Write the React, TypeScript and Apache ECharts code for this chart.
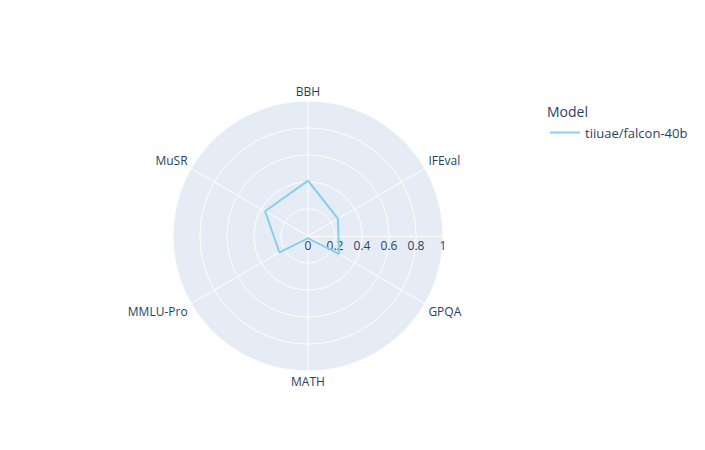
import React, { useEffect, useRef } from "react";
import * as echarts from "echarts";

const categories = ["BBH", "IFEval", "GPQA", "MATH", "MMLU-Pro", "MuSR"];
const seriesName = "tiiuae/falcon-40b";
const values = [0.41, 0.256, 0.267, 0.015, 0.244, 0.367];
const radialTicks = [0, 0.2, 0.4, 0.6, 0.8, 1];

const FONT = '"Open Sans", Verdana, Arial, sans-serif';
const TEXT = "#2a3f5f";

export default function App() {
  const ref = useRef<HTMLDivElement>(null);
  useEffect(() => {
    if (!ref.current) return;
    const chart = echarts.init(ref.current, undefined, { renderer: "svg" });
    const step = 360 / categories.length;
    const data = values.map((v, i) => [v, i * step]);
    data.push([values[0], 360]);
    chart.setOption({
      animation: false,
      textStyle: { fontFamily: FONT },
      title: {
        text: "Model",
        left: 542,
        top: 99,
        textStyle: { fontFamily: FONT, fontSize: 14, fontWeight: "normal", color: TEXT },
      },
      legend: {
        left: 545,
        top: 121,
        orient: "vertical",
        itemWidth: 30,
        itemHeight: 12,
        itemGap: 4,
        textStyle: { fontFamily: FONT, fontSize: 13, color: TEXT },
        data: [{ name: seriesName, icon: "path://M0,0 L30,0 L30,2 L0,2 Z" }],
      },
      polar: [
        { center: [308, 236], radius: 135 },
        { center: [308, 236], radius: 135 },
      ],
      angleAxis: [
        {
          polarIndex: 0,
          type: "value",
          min: 0,
          max: 360,
          interval: step,
          startAngle: 90,
          clockwise: true,
          axisLine: { show: false },
          axisTick: { show: false },
          axisLabel: {
            margin: 4,
            fontSize: 12,
            fontFamily: FONT,
            color: TEXT,
            formatter: (v: number) => {
              const idx = Math.round(v / step);
              return idx < categories.length ? categories[idx] : "";
            },
          },
          splitLine: { show: true, lineStyle: { color: "#ffffff", width: 1 } },
          z: 1,
        },
        {
          polarIndex: 1,
          type: "value",
          min: 0,
          max: 360,
          startAngle: 0,
          show: false,
        },
      ],
      radiusAxis: [
        {
          polarIndex: 0,
          type: "value",
          min: 0,
          max: 1,
          interval: 0.2,
          axisLine: { show: false },
          axisTick: { show: false },
          axisLabel: { show: false },
          splitLine: { show: false },
          splitArea: { show: true, areaStyle: { color: ["#E5ECF6"] } },
          z: 0,
        },
        {
          polarIndex: 1,
          type: "value",
          min: 0,
          max: 1,
          interval: 0.2,
          axisLine: { show: true, lineStyle: { color: "#ffffff", width: 1 } },
          axisTick: { show: false },
          splitLine: { show: true, lineStyle: { color: "#ffffff", width: 1 } },
          axisLabel: {
            show: true,
            margin: -3,
            verticalAlign: "top",
            fontSize: 12,
            fontFamily: FONT,
            color: TEXT,
            formatter: (v: number) => {
              const t = radialTicks.find((x) => Math.abs(x - v) < 1e-6);
              return t === undefined ? "" : String(t);
            },
          },
          z: 2,
        },
      ],
      series: [
        {
          name: seriesName,
          type: "line",
          coordinateSystem: "polar",
          polarIndex: 0,
          data,
          symbol: "none",
          lineStyle: { color: "#87CEEB", width: 2 },
          itemStyle: { color: "#87CEEB" },
          z: 5,
        },
      ],
    });
    return () => chart.dispose();
  }, []);
  return <div ref={ref} style={{ width: 705, height: 450, margin: -8 }} />;
}
